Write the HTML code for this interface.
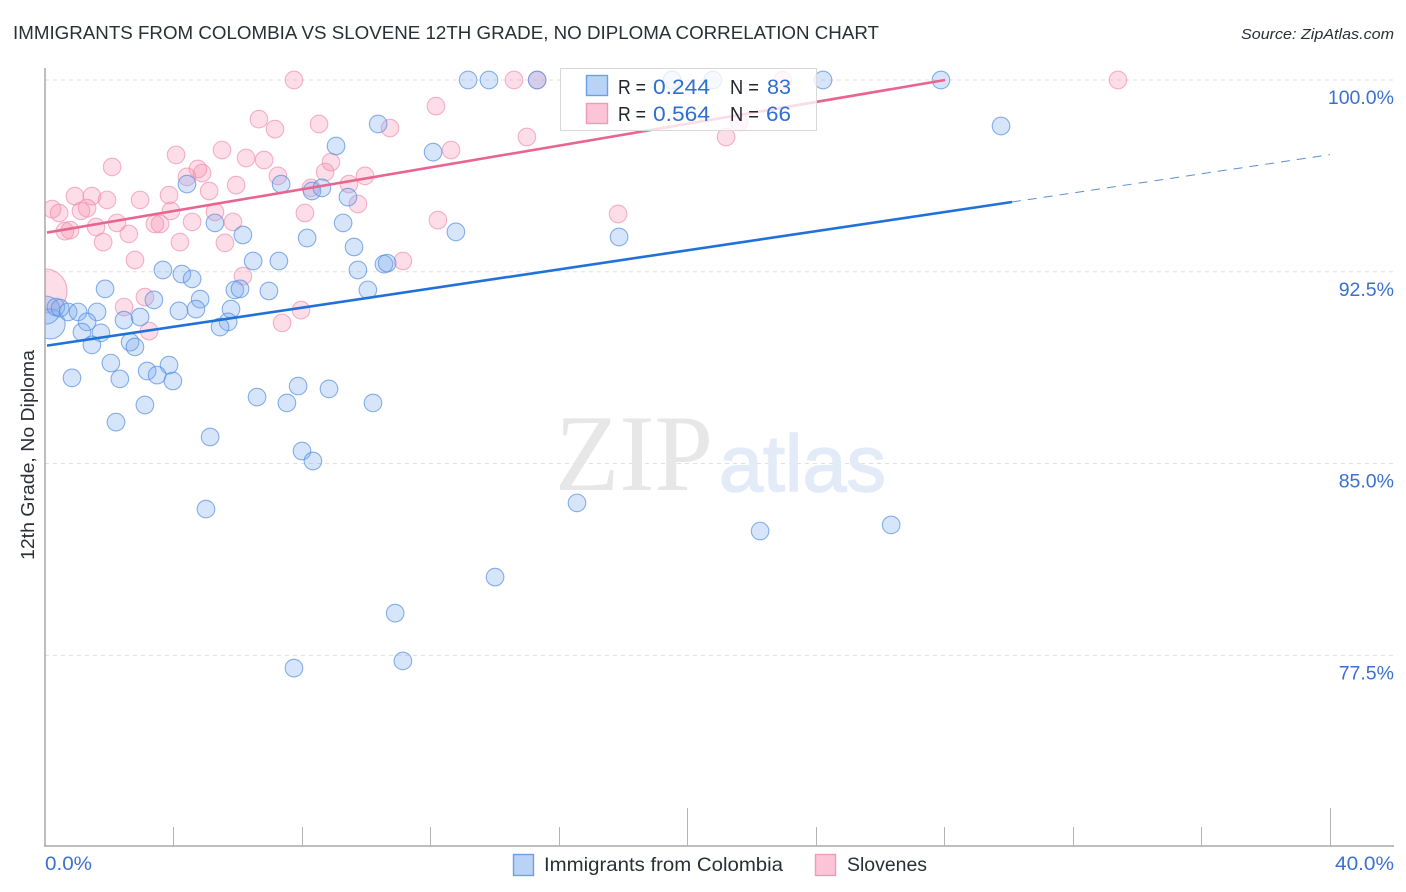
<!DOCTYPE html>
<html lang="en">
<head>
<meta charset="utf-8">
<title>Immigrants from Colombia vs Slovene 12th Grade, No Diploma Correlation Chart</title>
<style>
html,body{margin:0;padding:0;background:#fff;width:1406px;height:892px;overflow:hidden}
svg{display:block}
text{font-family:"Liberation Sans",sans-serif}
</style>
</head>
<body>
<svg id="chart" width="1406" height="892" viewBox="0 0 1406 892" xmlns="http://www.w3.org/2000/svg">
  <text x="13" y="39" font-size="18.5" fill="#2a2f36" textLength="866" lengthAdjust="spacingAndGlyphs">IMMIGRANTS FROM COLOMBIA VS SLOVENE 12TH GRADE, NO DIPLOMA CORRELATION CHART</text>
  <text x="1394" y="39" font-size="15" font-style="italic" fill="#2a2f36" text-anchor="end" textLength="153" lengthAdjust="spacingAndGlyphs">Source: ZipAtlas.com</text>
  <g id="grid"></g>
  <g>
    <text x="555" y="490" font-size="109" fill="#e7e7e7" textLength="158" lengthAdjust="spacingAndGlyphs" style="font-family:'Liberation Serif',serif">ZIP</text>
    <text x="719" y="491" font-size="80" fill="#e3ebf8" stroke="#e3ebf8" stroke-width="1.5" textLength="167" lengthAdjust="spacingAndGlyphs" style="font-family:'Liberation Sans',sans-serif">atlas</text>
  </g>
  <g id="points"></g>
  <rect x="0" y="60" width="45" height="790" fill="#fff"/>
  <g id="lines"></g>
  <g id="axes"></g>
  <text transform="translate(34 455) rotate(-90)" font-size="18.5" fill="#2a2f36" text-anchor="middle" textLength="210" lengthAdjust="spacingAndGlyphs">12th Grade, No Diploma</text>
  <g>
    <rect x="560.5" y="68.5" width="256" height="62" fill="#fff" fill-opacity="0.78" stroke="#d8d8d8"/>
    <rect x="586.5" y="75.5" width="21" height="20" fill="#b9d3f7" stroke="#6b9fe6" stroke-width="1.4"/>
    <rect x="586.5" y="103.5" width="21" height="20" fill="#fcc5d7" stroke="#f09ab8" stroke-width="1.4"/>
    <text x="618" y="94" font-size="20.5" fill="#22262c" textLength="28" lengthAdjust="spacingAndGlyphs">R =</text>
    <text x="653" y="94" font-size="21.5" fill="#2f6fd2" textLength="57" lengthAdjust="spacingAndGlyphs">0.244</text>
    <text x="730" y="94" font-size="20.5" fill="#22262c" textLength="29" lengthAdjust="spacingAndGlyphs">N =</text>
    <text x="767" y="94" font-size="21.5" fill="#2f6fd2" textLength="24" lengthAdjust="spacingAndGlyphs">83</text>
    <text x="618" y="121" font-size="20.5" fill="#22262c" textLength="28" lengthAdjust="spacingAndGlyphs">R =</text>
    <text x="653" y="121" font-size="21.5" fill="#2f6fd2" textLength="57" lengthAdjust="spacingAndGlyphs">0.564</text>
    <text x="730" y="121" font-size="20.5" fill="#22262c" textLength="29" lengthAdjust="spacingAndGlyphs">N =</text>
    <text x="766" y="121" font-size="21.5" fill="#2f6fd2" textLength="25" lengthAdjust="spacingAndGlyphs">66</text>
  </g>
  <g>
    <g>
      <rect x="513.5" y="854.5" width="20" height="21" fill="#b9d3f7" stroke="#6b9fe6" stroke-width="1.4"/>
      <text x="544" y="871" font-size="19.5" fill="#2a2f36" textLength="239" lengthAdjust="spacingAndGlyphs">Immigrants from Colombia</text>
    </g>
    <g>
      <rect x="815.5" y="854.5" width="20" height="21" fill="#fcc5d7" stroke="#f09ab8" stroke-width="1.4"/>
      <text x="847" y="871" font-size="19.5" fill="#2a2f36" textLength="80" lengthAdjust="spacingAndGlyphs">Slovenes</text>
    </g>
  </g>
</svg>
<script>
const yTickValues = [100, 92.5, 85, 77.5];
const yTickLabels = ["100.0%", "92.5%", "85.0%", "77.5%"];
const xTickValues = [4, 8, 12, 16, 20, 24, 28, 32, 36, 40];
const xMajorTicks = [20, 40];
const xEndValues = [0, 40];
const xEndLabels = ["0.0%", "40.0%"];

const colombiaX = [13.17,13.82,15.32,19.52,20.79,24.22,27.89,29.76,10.37,9.06,12.08,4.42,7.35,8.31,8.62,9.43,9.28,5.29,6.16,8.16,12.79,17.87,9.62,6.48,7.28,9.74,10.55,10.65,3.67,4.26,4.58,1.87,5.91,6.07,6.97,10.05,3.39,4.83,4.17,4.70,5.79,0.34,0.47,0.72,1.03,1.62,1.31,2.46,2.96,5.70,5.45,1.15,1.74,1.46,2.65,2.80,2.05,3.86,3.18,3.49,0.84,2.33,3.98,7.88,8.84,6.60,7.53,10.21,3.11,2.21,5.14,8.00,8.34,5.01,16.56,22.26,26.34,14.01,10.90,11.14,7.75];
const colombiaY = [100,100,100,100,100,100,100,98.20,98.28,97.42,97.18,95.93,95.93,95.66,95.78,95.42,94.41,94.41,93.94,93.82,94.06,93.86,93.47,92.92,92.92,92.57,92.80,92.84,92.57,92.41,92.22,91.83,91.79,91.83,91.75,91.79,91.40,91.43,90.97,91.04,91.04,91.12,91.08,90.93,90.93,90.93,90.54,90.61,90.73,90.54,90.34,90.14,90.11,89.64,89.75,89.56,88.93,88.85,88.62,88.46,88.35,88.31,88.23,88.03,87.92,87.60,87.37,87.37,87.29,86.62,86.04,85.49,85.10,83.22,83.46,82.36,82.60,80.56,79.15,77.28,77.00];
const colombiaLargeX = [0.16, 0.03];
const colombiaLargeY = [90.46, 91.0];
const colombiaLargeWeight = [15, 14];

const sloveneX = [7.75,14.60,15.32,22.97,33.40,12.17,6.66,8.53,7.16,10.74,21.60,15.00,21.20,12.64,5.51,4.08,6.26,6.82,2.09,8.90,4.76,4.89,4.42,7.25,8.72,9.96,9.46,5.95,8.28,5.11,0.93,1.46,1.93,2.96,3.86,9.74,0.22,0.44,1.31,1.12,3.92,5.29,8.09,17.84,12.23,5.85,4.58,3.42,3.58,2.24,1.59,0.62,0.78,2.61,1.81,4.20,5.60,2.80,11.14,6.16,3.11,2.46,7.97,3.24,7.38];
const sloveneY = [100,100,100,100,100,98.98,98.47,98.28,98.08,98.12,98.36,97.77,97.77,97.26,97.26,97.07,96.95,96.87,96.60,96.79,96.52,96.36,96.21,96.25,96.40,96.25,95.93,95.89,95.78,95.66,95.46,95.46,95.31,95.31,95.50,95.15,94.95,94.80,94.99,94.88,94.88,94.84,94.80,94.76,94.52,94.45,94.45,94.37,94.37,94.41,94.25,94.09,94.13,93.98,93.66,93.66,93.63,92.96,92.92,92.33,91.51,91.12,91.00,90.18,90.50];
const sloveneLargeX = [0];
const sloveneLargeY = [91.75];
const sloveneLargeWeight = [22];

const colombiaTrend = [89.6, 0.187];
const colombiaSolidEnd = 30.1;
const colombiaDashEnd = 40;
const sloveneTrend = [94.02, 0.2134];
const sloveneSolidEnd = 28.02;

const SVGNS = 'http://www.w3.org/2000/svg';
function sx(v) { return 45 + v * 32.125; }
function sy(v) { return 80 + (100 - v) * 25.57; }
function make(tag, attrs, parent) {
  const el = document.createElementNS(SVGNS, tag);
  for (const k in attrs) el.setAttribute(k, attrs[k]);
  parent.appendChild(el);
  return el;
}
const gridG = document.getElementById('grid');
const axesG = document.getElementById('axes');
const pointsG = document.getElementById('points');
const linesG = document.getElementById('lines');

yTickValues.forEach(function (v, i) {
  const g = make('line', {x1: 45, x2: 1394, y1: sy(v), y2: sy(v), stroke: '#e0e0e0', 'stroke-width': 1, 'stroke-dasharray': '4 4'}, gridG);
  
  
  const t = make('text', {x: 1394, y: sy(v) + 24, 'font-size': 19.5, fill: '#3b70d2', 'text-anchor': 'end'}, axesG);
  t.textContent = yTickLabels[i];
  
  
});

const yAxis = make('line', {x1: 45, x2: 45, y1: 68, y2: 846.5, stroke: '#a8a8a8', 'stroke-width': 1.5}, axesG);


const xAxis = make('line', {x1: 44, x2: 1394, y1: 846, y2: 846, stroke: '#a8a8a8', 'stroke-width': 1.5}, axesG);



xTickValues.forEach(function (v) {
  const top = xMajorTicks.indexOf(v) >= 0 ? 808 : 827;
  const px = Math.floor(sx(v)) + 0.5;
  const tick = make('line', {x1: px, x2: px, y1: top, y2: 846, stroke: '#b4b4b4', 'stroke-width': 1}, axesG);
  
  
});

xEndValues.forEach(function (v, i) {
  const t = make('text', {x: i === 0 ? sx(v) : 1335, y: 870, 'font-size': 19.5, fill: '#3b70d2', textLength: i === 0 ? 47 : 59, lengthAdjust: 'spacingAndGlyphs'}, axesG);
  t.textContent = xEndLabels[i];
  
  
});

function drawPoint(x, y, r, fill, stroke) {
  const c = make('circle', {cx: sx(x), cy: sy(y), r: r, fill: fill, 'fill-opacity': 0.3, stroke: stroke, 'stroke-width': 1.1, 'stroke-opacity': 0.7}, pointsG);
  return c;
}
const pinkFill = '#f78fb0', pinkStroke = '#f093b1';
const blueFill = '#79aaf0', blueStroke = '#5590e2';

sloveneLargeX.forEach(function (x, i) {
  const c = drawPoint(x, sloveneLargeY[i], sloveneLargeWeight[i], pinkFill, pinkStroke);
  
  
});
sloveneX.forEach(function (x, i) {
  const c = drawPoint(x, sloveneY[i], 8.8, pinkFill, pinkStroke);
  
  
});
colombiaLargeX.forEach(function (x, i) {
  const c = drawPoint(x, colombiaLargeY[i], colombiaLargeWeight[i], blueFill, blueStroke);
  
  
});
colombiaX.forEach(function (x, i) {
  const c = drawPoint(x, colombiaY[i], 8.8, blueFill, blueStroke);
  
  
});

function trendY(trend, x) { return trend[0] + trend[1] * x; }
const blueSolid = make('line', {x1: 47, y1: sy(trendY(colombiaTrend, (47 - 45) / 32.125)), x2: sx(colombiaSolidEnd), y2: sy(trendY(colombiaTrend, colombiaSolidEnd)), stroke: '#2071da', 'stroke-width': 2.6}, linesG);


const blueDash = make('line', {x1: sx(colombiaSolidEnd), y1: sy(trendY(colombiaTrend, colombiaSolidEnd)), x2: sx(colombiaDashEnd), y2: sy(trendY(colombiaTrend, colombiaDashEnd)), stroke: '#5a8fd6', 'stroke-width': 1, 'stroke-dasharray': '9 7'}, linesG);


const pinkSolid = make('line', {x1: 47, y1: sy(trendY(sloveneTrend, (47 - 45) / 32.125)), x2: sx(sloveneSolidEnd), y2: sy(trendY(sloveneTrend, sloveneSolidEnd)), stroke: '#e9648f', 'stroke-width': 2.6}, linesG);


</script>
</body>
</html>
